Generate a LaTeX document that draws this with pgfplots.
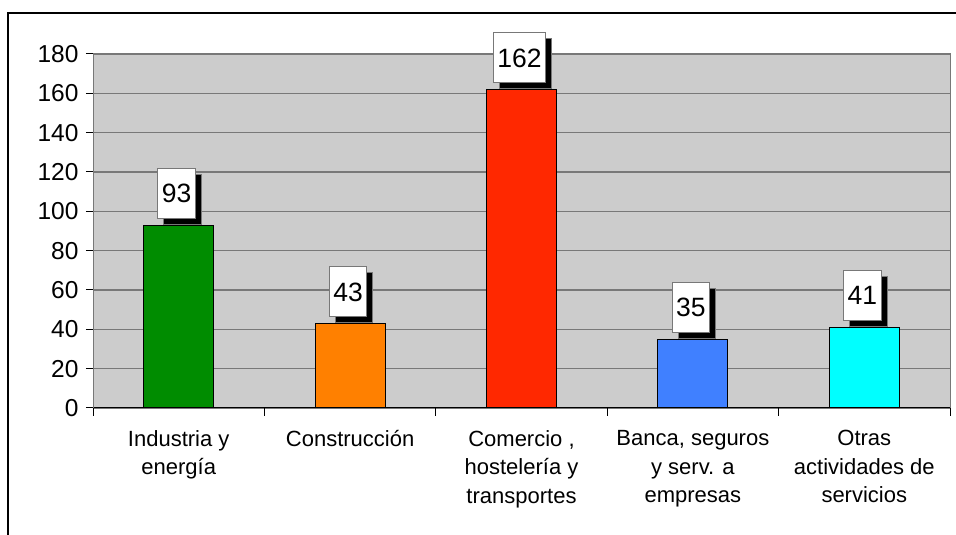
\documentclass[border=0pt]{standalone}
\usepackage{pgfplots}
\pgfplotsset{compat=1.18}
\usepackage{fontspec}
\setmainfont{Liberation Sans}
\usetikzlibrary{shadows}
\definecolor{plotgray}{RGB}{204,204,204}
\definecolor{gridgray}{RGB}{120,120,120}
\definecolor{cgreen}{RGB}{0,140,0}
\definecolor{corange}{RGB}{255,128,0}
\definecolor{cred}{RGB}{255,40,0}
\definecolor{cblue}{RGB}{64,128,255}
\definecolor{ccyan}{RGB}{0,255,255}
\begin{document}
\begin{tikzpicture}[x=1pt,y=1pt]
\useasboundingbox (0,0) rectangle (956,535);
\draw[line width=1.3pt] (8,-2) -- (8,522) -- (958,522);
\begin{axis}[
  at={(93pt,127pt)}, anchor=south west,
  scale only axis, width=857pt, height=354pt,
  xmin=-0.5, xmax=4.5, ymin=0, ymax=180,
  ytick={0,20,...,180},
  ymajorgrids, major grid style={gridgray, line width=1.2pt},
  axis background/.style={fill=plotgray, draw=gridgray, line width=1pt},
  axis x line*=bottom, axis y line*=left,
  x axis line style={black, line width=1pt, -},
  y axis line style={gridgray, line width=1pt, -},
  tick align=outside,
  major tick length=7pt, minor tick length=8pt,
  xtick={0,1,2,3,4},
  minor xtick={-0.5,0.5,1.5,2.5,3.5,4.5},
  major x tick style={draw=none},
  minor x tick style={black, line width=1pt},
  ytick style={black, line width=1pt},
  xticklabels={{Industria y\\energía}, {Construcción}, {Comercio ,\\hostelería y\\transportes}, {Banca, seguros\\y serv. a\\empresas}, {Otras\\actividades de\\servicios}},
  xticklabel style={align=center, anchor=north, font=\fontsize{22}{28.5}\selectfont, yshift=-12pt},
  yticklabel style={anchor=east, font=\fontsize{24.5}{28}\selectfont, xshift=-4pt},
  /pgf/number format/assume math mode=true,
  nodes near coords,
  every node near coord/.append style={font=\fontsize{26.5}{30}\selectfont, fill=white, draw=gridgray, line width=1pt, minimum height=50pt, inner xsep=4pt, inner ysep=0pt, anchor=south, yshift=6pt, xshift=-2pt, drop shadow={shadow xshift=6pt, shadow yshift=-6pt, opacity=1, fill=black}},
]
\addplot[ybar, bar width=70pt, fill=cgreen, draw=black, line width=1pt] coordinates {(0,93)};
\addplot[ybar, bar width=70pt, fill=corange, draw=black, line width=1pt] coordinates {(1,43)};
\addplot[ybar, bar width=70pt, fill=cred, draw=black, line width=1pt] coordinates {(2,162)};
\addplot[ybar, bar width=70pt, fill=cblue, draw=black, line width=1pt] coordinates {(3,35)};
\addplot[ybar, bar width=70pt, fill=ccyan, draw=black, line width=1pt] coordinates {(4,41)};
\end{axis}
\end{tikzpicture}
\end{document}
